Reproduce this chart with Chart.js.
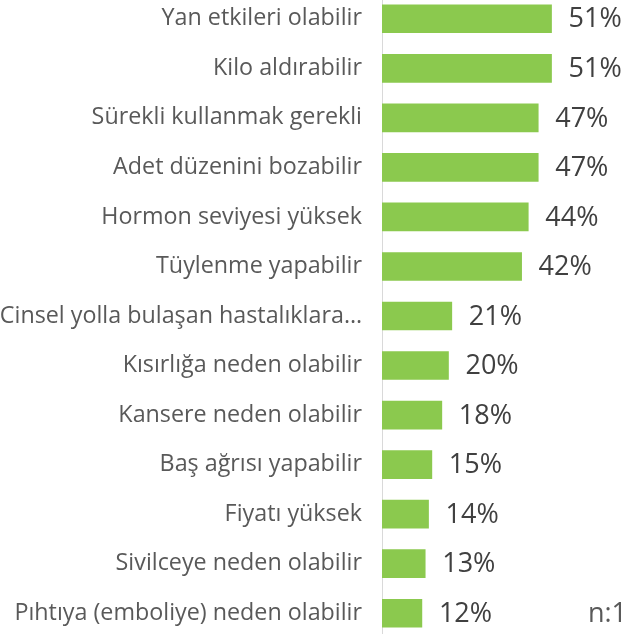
<!DOCTYPE html>
<html>
<head>
<meta charset="utf-8">
<script src="https://cdn.jsdelivr.net/npm/chart.js@4"></script>
<style>
html,body{margin:0;padding:0;background:#fff;overflow:hidden;width:628px;height:634px;}
#c{position:absolute;left:0;top:-6px;}
</style>
</head>
<body>
<canvas id="c" width="628" height="644" style="width:628px;height:644px"></canvas>
<script>
const categories = [
  "Yan etkileri olabilir",
  "Kilo aldırabilir",
  "Sürekli kullanmak gerekli",
  "Adet düzenini bozabilir",
  "Hormon seviyesi yüksek",
  "Tüylenme yapabilir",
  "Cinsel yolla bulaşan hastalıklara…",
  "Kısırlığa neden olabilir",
  "Kansere neden olabilir",
  "Baş ağrısı yapabilir",
  "Fiyatı yüksek",
  "Sivilceye neden olabilir",
  "Pıhtıya (emboliye) neden olabilir"
];
const values = [51, 51, 47, 47, 44, 42, 21, 20, 18, 15, 14, 13, 12];
const noteText = "n:1";

const valueLabels = {
  id: 'valueLabels',
  afterDatasetsDraw(chart) {
    const ctx = chart.ctx;
    const meta = chart.getDatasetMeta(0);
    ctx.save();
    ctx.font = '27px "Open Sans"';
    ctx.fillStyle = '#404040';
    ctx.textAlign = 'left';
    ctx.textBaseline = 'middle';
    meta.data.forEach((bar, i) => {
      ctx.fillText(values[i] + '%', bar.x + 17, bar.y + 1);
    });
    const last = meta.data[meta.data.length - 1];
    ctx.fillStyle = '#595959';
    ctx.textAlign = 'right';
    ctx.fillText(noteText, chart.width - 1, last.y + 1);
    ctx.restore();
  }
};

new Chart(document.getElementById('c'), {
  type: 'bar',
  data: {
    labels: categories,
    datasets: [{
      data: values,
      backgroundColor: '#8BC94E',
      borderWidth: 0,
      barThickness: 28
    }]
  },
  options: {
    indexAxis: 'y',
    responsive: false,
    animation: false,
    layout: { padding: 0, autoPadding: false },
    plugins: { legend: { display: false }, tooltip: { enabled: false } },
    scales: {
      x: { display: false, min: 0, max: 74 },
      y: {
        grid: { display: false, drawTicks: false },
        border: { display: true, color: '#D9D9D9', width: 1 },
        ticks: { font: { family: 'Open Sans', size: 23.3 }, color: '#595959', padding: 20, autoSkip: false },
        afterFit(scale) {
          scale.width = 382;
          scale.paddingTop = 0;
          scale.paddingBottom = 0;
        }
      }
    }
  },
  plugins: [valueLabels]
});
</script>
</body>
</html>
